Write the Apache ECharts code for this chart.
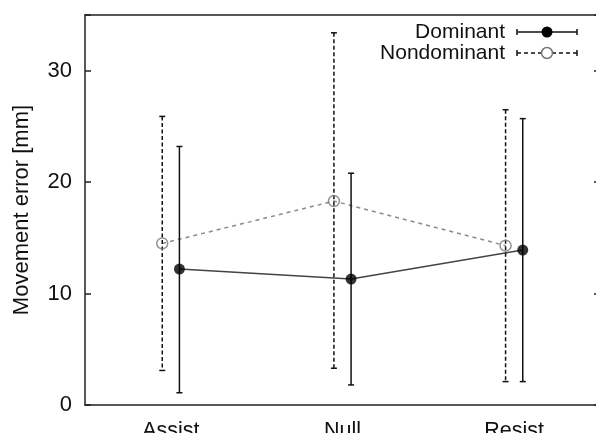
<!DOCTYPE html>
<html>
<head>
<meta charset="utf-8">
<script src="https://cdn.jsdelivr.net/npm/echarts@6/dist/echarts.min.js"></script>
<style>
  html, body { margin: 0; padding: 0; background: #fff; }
  #chart { width: 596px; height: 433px; }
</style>
</head>
<body>
<div id="chart"></div>
<script>
// values (mm)
const categories = ["Assist", "Null", "Resist"];
const dominantMean = [12.2, 11.3, 13.9];
const dominantLow = [1.1, 1.8, 2.1];
const dominantHigh = [23.2, 20.8, 25.7];
const nondomMean = [14.5, 18.3, 14.3];
const nondomLow = [3.1, 3.3, 2.1];
const nondomHigh = [25.9, 33.4, 26.5];
const yTicks = [0, 10, 20, 30];

const FONT = "Liberation Sans, Arial, sans-serif";
const shift = 0.05; // horizontal offset of the two groups around each category

const domX = (i) => i + 1 + shift;
const nonX = (i) => i + 1 - shift;

function errorBar(dashed) {
  return function (params, api) {
    const x = api.value(0);
    const top = api.coord([x, api.value(2)]);
    const bot = api.coord([x, api.value(1)]);
    const st = { stroke: "#111", lineWidth: 1.5, lineDash: dashed ? [4, 2.5] : null };
    const cap = { stroke: "#111", lineWidth: 1.5 };
    return {
      type: "group",
      children: [
        { type: "line", shape: { x1: top[0], y1: top[1], x2: bot[0], y2: bot[1] }, style: st },
        { type: "line", shape: { x1: top[0] - 3, y1: top[1], x2: top[0] + 3, y2: top[1] }, style: cap },
        { type: "line", shape: { x1: bot[0] - 3, y1: bot[1], x2: bot[0] + 3, y2: bot[1] }, style: cap },
      ],
    };
  };
}

const axisLine = { onZero: false, lineStyle: { color: "#222", width: 1.5 } };
const tickIn = { inside: true, length: 6, lineStyle: { color: "#222", width: 1.5 } };

const chart = echarts.init(document.getElementById("chart"));
chart.setOption({
  animation: false,
  grid: { left: 85, right: -4, top: 15, bottom: 28, outerBoundsMode: "none", containLabel: false },
  xAxis: [
    {
      type: "category",
      position: "bottom",
      data: categories,
      boundaryGap: true,
      axisLine: axisLine,
      axisTick: Object.assign({ alignWithLabel: true }, tickIn),
      axisLabel: { color: "#111", fontSize: 21.5, fontFamily: FONT, margin: 15 },
    },
    {
      type: "category",
      position: "top",
      data: categories,
      boundaryGap: true,
      axisLine: axisLine,
      axisTick: Object.assign({ alignWithLabel: true }, tickIn),
      axisLabel: { show: false },
    },
    { type: "value", min: 0.5, max: 3.5, show: false },
  ],
  yAxis: [
    {
      type: "value",
      min: 0,
      max: 35,
      interval: 10,
      name: "Movement error [mm]",
      nameLocation: "middle",
      nameGap: 52,
      nameTextStyle: { color: "#111", fontSize: 22, fontFamily: FONT },
      axisLine: Object.assign({ show: true }, axisLine),
      axisTick: tickIn,
      splitLine: { show: false },
      axisLabel: {
        color: "#111",
        fontSize: 22,
        fontFamily: FONT,
        margin: 13,
        formatter: (v) => (yTicks.includes(v) ? String(v) : ""),
      },
    },
    {
      type: "value",
      position: "right",
      min: 0,
      max: 35,
      interval: 10,
      axisLine: Object.assign({ show: true }, axisLine),
      axisTick: tickIn,
      splitLine: { show: false },
      axisLabel: { show: false },
    },
  ],
  series: [
    {
      name: "Dominant line",
      type: "line",
      xAxisIndex: 2,
      symbol: "none",
      lineStyle: { color: "#444", width: 1.5 },
      data: dominantMean.map((v, i) => [domX(i), v]),
      z: 2,
    },
    {
      name: "Nondominant line",
      type: "line",
      xAxisIndex: 2,
      symbol: "none",
      lineStyle: { color: "#8a8a8a", width: 1.5, type: [4, 4] },
      data: nondomMean.map((v, i) => [nonX(i), v]),
      z: 2,
    },
    {
      name: "Dominant bars",
      type: "custom",
      xAxisIndex: 2,
      renderItem: errorBar(false),
      encode: { x: 0, y: [1, 2] },
      data: dominantMean.map((v, i) => [domX(i), dominantLow[i], dominantHigh[i]]),
      z: 3,
    },
    {
      name: "Nondominant bars",
      type: "custom",
      xAxisIndex: 2,
      renderItem: errorBar(true),
      encode: { x: 0, y: [1, 2] },
      data: nondomMean.map((v, i) => [nonX(i), nondomLow[i], nondomHigh[i]]),
      z: 3,
    },
    {
      name: "Dominant",
      type: "scatter",
      xAxisIndex: 2,
      symbol: "circle",
      symbolSize: 11,
      itemStyle: { color: "#000" },
      data: dominantMean.map((v, i) => [domX(i), v]),
      z: 4,
    },
    {
      name: "Nondominant",
      type: "scatter",
      xAxisIndex: 2,
      symbol: "circle",
      symbolSize: 11,
      itemStyle: { color: "rgba(0,0,0,0)", borderColor: "#777", borderWidth: 1.5 },
      data: nondomMean.map((v, i) => [nonX(i), v]),
      z: 4,
    },
  ],
  graphic: [
    { type: "text", x: 505, y: 32, style: { text: "Dominant", font: "21px " + FONT, fill: "#111", align: "right", verticalAlign: "middle" } },
    { type: "line", shape: { x1: 517, y1: 32, x2: 577, y2: 32 }, style: { stroke: "#111", lineWidth: 1.5 } },
    { type: "line", shape: { x1: 517, y1: 29, x2: 517, y2: 35 }, style: { stroke: "#111", lineWidth: 1.5 } },
    { type: "line", shape: { x1: 577, y1: 29, x2: 577, y2: 35 }, style: { stroke: "#111", lineWidth: 1.5 } },
    { type: "circle", shape: { cx: 547, cy: 32, r: 5.5 }, style: { fill: "#000" } },
    { type: "text", x: 505, y: 53, style: { text: "Nondominant", font: "21px " + FONT, fill: "#111", align: "right", verticalAlign: "middle" } },
    { type: "line", shape: { x1: 517, y1: 53, x2: 577, y2: 53 }, style: { stroke: "#111", lineWidth: 1.5, lineDash: [4, 3] } },
    { type: "line", shape: { x1: 517, y1: 50, x2: 517, y2: 56 }, style: { stroke: "#111", lineWidth: 1.5 } },
    { type: "line", shape: { x1: 577, y1: 50, x2: 577, y2: 56 }, style: { stroke: "#111", lineWidth: 1.5 } },
    { type: "circle", shape: { cx: 547, cy: 53, r: 5.5 }, style: { fill: "#fff", stroke: "#777", lineWidth: 1.5 } },
  ],
});
window.addEventListener("resize", () => chart.resize());
</script>
</body>
</html>
